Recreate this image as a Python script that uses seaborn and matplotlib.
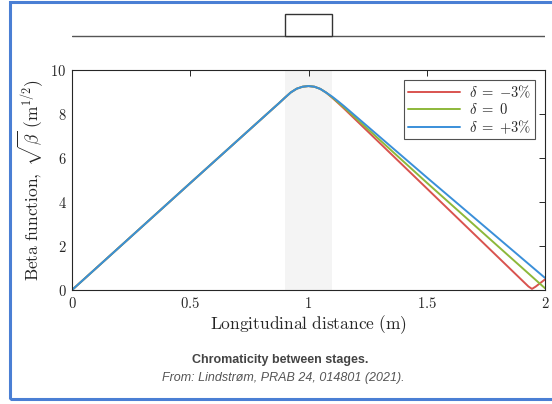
import numpy as np
import pandas as pd
import matplotlib
matplotlib.use("Agg")
import matplotlib.pyplot as plt
import seaborn as sns
from matplotlib.patches import Rectangle

# ---- data ----
s_common = [0.0, 0.5, 0.85, 0.875, 0.90, 0.925, 0.95, 0.975, 1.00, 1.025, 1.05, 1.075]
b_common = [0.0, 4.86, 8.25, 8.49, 8.74, 8.98, 9.15, 9.24, 9.27, 9.24, 9.14, 8.97]

s_minus = [1.10, 1.125, 1.15, 1.50, 1.93, 1.945, 1.96, 2.00]
b_minus = [8.74, 8.50, 8.25, 4.62, 0.16, 0.05, 0.15, 0.48]

s_zero = [1.10, 1.125, 1.15, 1.50, 2.00]
b_zero = [8.76, 8.53, 8.30, 4.88, 0.08]

s_plus = [1.10, 1.125, 1.15, 1.50, 2.00]
b_plus = [8.79, 8.58, 8.36, 5.12, 0.55]

labels = [r"$\delta\;{=}\;{-}3\%$", r"$\delta\;{=}\;0$", r"$\delta\;{=}\;{+}3\%$"]
colors = ["#d9534f", "#8db83a", "#3a8fd9"]
lens_start, lens_end = 0.9, 1.1
xticks = [0, 0.5, 1, 1.5, 2]
xtick_labels = ["0", "0.5", "1", "1.5", "2"]
yticks = [0, 2, 4, 6, 8, 10]

rows = []
for lab, sx, bx in zip(labels, [s_minus, s_zero, s_plus], [b_minus, b_zero, b_plus]):
    for s, b in zip(s_common + sx, b_common + bx):
        rows.append({"s": s, "b": b, "case": lab})
df = pd.DataFrame(rows)

sns.set_theme(style="white")
plt.rcParams["mathtext.fontset"] = "cm"
plt.rcParams["font.family"] = ["DejaVu Serif"]

fig = plt.figure(figsize=(5.52, 4.04), dpi=100)

# outer blue frame
fig.patches.append(Rectangle((10/552, 5/404), 1 - 10/552 + 0.01, 1 - 7/404,
                             transform=fig.transFigure, fill=False,
                             edgecolor="#4a7fd4", linewidth=2.2))

ax = fig.add_axes([72/552, 1 - 290/404, (545-72)/552, (290-70)/404])
ax.axvspan(lens_start, lens_end, color="#f4f4f4", zorder=0, lw=0)
sns.lineplot(data=df, x="s", y="b", hue="case", palette=colors, ax=ax,
             linewidth=1.4, sort=False, estimator=None, legend=True)
ax.set_xlim(0, 2)
ax.set_ylim(0, 10)
ax.set_xticks(xticks)
ax.set_xticklabels([f"${t}$" for t in xtick_labels])
ax.set_yticks(yticks)
ax.set_yticklabels([f"${t}$" for t in yticks])
ax.tick_params(direction="in", length=4, width=0.7, top=True, right=True,
               labelsize=10.5, colors="#262626", pad=4)
for sp in ax.spines.values():
    sp.set_color("#262626")
    sp.set_linewidth(0.8)
ax.set_xlabel(r"$\mathrm{Longitudinal\ distance\ (m)}$", fontsize=12.5, color="#262626", labelpad=2)
ax.set_ylabel(r"$\mathrm{Beta\ function,}\ \sqrt{\beta}\ \mathrm{(m^{1/2})}$", fontsize=12.5,
              color="#262626", labelpad=4)
leg = ax.legend(loc="upper right", fontsize=10.5, frameon=True, fancybox=False,
                edgecolor="#262626", handlelength=3.6, borderaxespad=0.7,
                labelspacing=0.1, borderpad=0.25, handletextpad=0.6)
leg.get_frame().set_linewidth(0.8)

# schematic of the lens above
ax2 = fig.add_axes([72/552, 1 - 40/404, (545-72)/552, 30/404])
ax2.set_xlim(0, 2)
ax2.set_ylim(0, 1)
ax2.axis("off")
ax2.plot([0, 2], [0.15, 0.15], color="#555555", lw=1.0)
ax2.add_patch(Rectangle((lens_start, 0.15), lens_end - lens_start, 0.72,
                        facecolor="white", edgecolor="#333333", lw=1.0, zorder=3))

fig.text(280/552, 1 - 360/404, "Chromaticity between stages.", ha="center", va="center",
         fontsize=9, fontweight="bold", color="#444444", family="Liberation Sans")
fig.text(283/552, 1 - 378/404, "From: Lindstrøm, PRAB 24, 014801 (2021).", ha="center",
         va="center", fontsize=9, style="italic", color="#555555", family="Liberation Sans")

fig.savefig("out.png", dpi=100)
